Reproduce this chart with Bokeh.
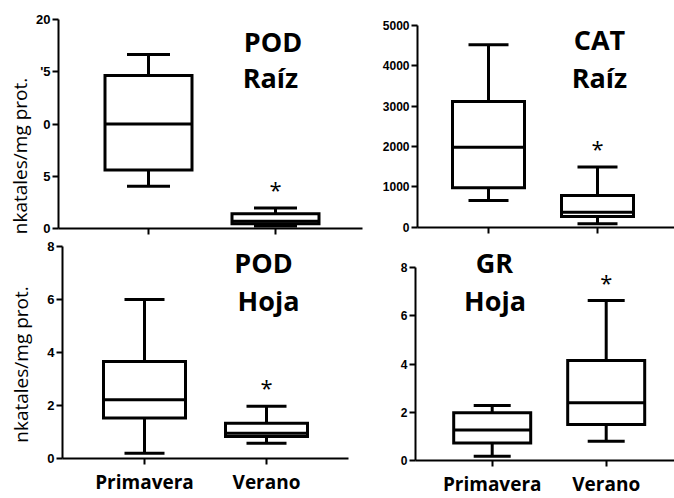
import numpy as np
from bokeh.plotting import figure
from bokeh.models import ColumnDataSource, Range1d, FixedTicker, Label, LinearAxis
from bokeh.embed import file_html
from bokeh.resources import INLINE

# ---------------- data ----------------
categories = ["Primavera", "Verano"]

pod_raiz_low = [4.05, 0.25]
pod_raiz_q1 = [5.6, 0.45]
pod_raiz_med = [10.0, 0.7]
pod_raiz_q3 = [14.65, 1.4]
pod_raiz_high = [16.65, 1.95]

cat_raiz_low = [662, 85]
cat_raiz_q1 = [976, 265]
cat_raiz_med = [1983, 372]
cat_raiz_q3 = [3116, 786]
cat_raiz_high = [4521, 1495]

pod_hoja_low = [0.19, 0.56]
pod_hoja_q1 = [1.52, 0.82]
pod_hoja_med = [2.21, 0.94]
pod_hoja_q3 = [3.65, 1.32]
pod_hoja_high = [5.99, 1.96]

gr_hoja_low = [0.18, 0.80]
gr_hoja_q1 = [0.73, 1.49]
gr_hoja_med = [1.27, 2.40]
gr_hoja_q3 = [1.98, 4.15]
gr_hoja_high = [2.28, 6.64]

significant = [False, True]  # '*' marks

ticks_pod_raiz = [0, 5, 10, 15, 20]
tick_labels_pod_raiz = ["0", "5", "0", "'5", "20"]  # as visible (clipped) in the reference
ticks_cat_raiz = [0, 1000, 2000, 3000, 4000, 5000]
ticks_hoja = [0, 2, 4, 6, 8]

ylabel_text = "nkatales/mg prot."

TITLE_FONT = "Open Sans"
TICK_FONT = "Liberation Sans"

W, H = 674, 498
BASELINE_FIX = 11  # empirical correction of Label baselines (px)

p = figure(width=W, height=H, x_range=Range1d(0, W), y_range=Range1d(0, H),
           x_axis_location=None, y_axis_location=None,
           output_backend="svg", toolbar_location=None, min_border=0)
p.outline_line_color = None
p.background_fill_color = "white"
p.border_fill_color = "white"
p.xgrid.visible = False
p.ygrid.visible = False


def panel(name, xa, xb, y0, y1, top, yaxis_px, xaxis_end_px, yticks, ytick_labels,
          low, q1, med, q3, high, box_px, cap_px, tick_font_size, show_xlabels,
          xlabel_standoff=8):
    """xa, xb: pixel x of the two categories; y0: pixel y of value 0; y1: pixel y of `top`."""
    kx = xb - xa
    ky = (y0 - y1) / top
    x_of = lambda px: 1 + (px - xa) / kx
    p.extra_x_ranges[name] = Range1d(1 - xa / kx, 1 + (W - xa) / kx)
    p.extra_y_ranges[name] = Range1d(-(H - y0) / ky, y0 / ky)
    rn = dict(x_range_name=name, y_range_name=name)

    box_w = box_px / kx
    cap_w = cap_px / kx
    xs = list(np.arange(1, len(categories) + 1))
    src = ColumnDataSource(dict(
        x=xs, low=low, q1=q1, med=med, q3=q3, high=high,
        x0=[x - box_w / 2 for x in xs], x1=[x + box_w / 2 for x in xs],
        c0=[x - cap_w / 2 for x in xs], c1=[x + cap_w / 2 for x in xs],
    ))
    kw = dict(source=src, line_color="black", line_width=3, **rn)
    p.segment(x0="x", y0="q3", x1="x", y1="high", **kw)
    p.segment(x0="x", y0="low", x1="x", y1="q1", **kw)
    p.segment(x0="c0", y0="high", x1="c1", y1="high", **kw)
    p.segment(x0="c0", y0="low", x1="c1", y1="low", **kw)
    p.vbar(x="x", width=box_w, bottom="q1", top="q3", fill_color="white",
           line_join="miter", **kw)
    p.segment(x0="x0", y0="med", x1="x1", y1="med", **kw)

    yax = LinearAxis(fixed_location=x_of(yaxis_px), bounds=(0, top),
                     ticker=FixedTicker(ticks=yticks), **rn)
    xax = LinearAxis(fixed_location=0, bounds=(x_of(yaxis_px), x_of(xaxis_end_px)),
                     ticker=FixedTicker(ticks=xs), **rn)
    for ax in (xax, yax):
        ax.axis_line_width = 2
        ax.axis_line_color = "black"
        ax.major_tick_line_width = 2
        ax.major_tick_line_color = "black"
        ax.major_tick_out = 6
        ax.major_tick_in = 0
        ax.minor_tick_line_color = None
    if ytick_labels is not None:
        yax.major_label_overrides = {t: l for t, l in zip(yticks, ytick_labels)}
    yax.major_label_text_font = TICK_FONT
    yax.major_label_text_font_style = "bold"
    yax.major_label_text_font_size = tick_font_size
    yax.major_label_text_color = "black"
    yax.major_label_standoff = 2

    xax.major_label_overrides = {x: c for x, c in zip(xs, categories)}
    if show_xlabels:
        xax.major_label_text_font = TITLE_FONT
        xax.major_label_text_font_style = "bold"
        xax.major_label_text_font_size = "19px"
        xax.major_label_text_color = "black"
        xax.major_label_standoff = xlabel_standoff
    else:
        xax.major_label_text_color = None
    p.add_layout(yax, "left")
    p.add_layout(xax, "below")

    for x, s, h in zip(xs, significant, high):
        if s:
            p.add_layout(Label(x=x, y=h, y_offset=8 + BASELINE_FIX, text="*",
                               text_font=TITLE_FONT, text_font_size="22px",
                               text_align="center", text_baseline="alphabetic",
                               text_color="black", **rn))


def title(lines):
    # lines: (text, centre x px, baseline y px) in canvas pixels (top-left origin)
    for txt, cx, by in lines:
        p.add_layout(Label(x=cx, y=H - by + BASELINE_FIX, text=txt, text_font=TITLE_FONT,
                           text_font_style="bold", text_font_size="27px",
                           text_align="center", text_baseline="alphabetic",
                           text_color="black"))


def ylabel(cx, cy):
    p.add_layout(Label(x=cx, y=H - cy, angle=np.pi / 2, text=ylabel_text,
                       text_font=TITLE_FONT, text_font_size="19px",
                       text_align="center", text_baseline="middle", text_color="black"))


# top-left: POD Raíz
panel("tl", 148, 275, 228, 19, 20, 58, 362, ticks_pod_raiz, tick_labels_pod_raiz,
      pod_raiz_low, pod_raiz_q1, pod_raiz_med, pod_raiz_q3, pod_raiz_high,
      87, 43, "13px", False)
title([("POD", 272.5, 52), ("Raíz", 270, 88)])
ylabel(19, 155.5)

# top-right: CAT Raíz
panel("tr", 488, 597, 226.7, 25, 5000, 417, W, ticks_cat_raiz, None,
      cat_raiz_low, cat_raiz_q1, cat_raiz_med, cat_raiz_q3, cat_raiz_high,
      72, 40, "12px", False)
title([("CAT", 599, 50), ("Raíz", 599, 88)])

# bottom-left: POD Hoja
panel("bl", 144, 266, 457.7, 245.7, 8, 62, 348, ticks_hoja, None,
      pod_hoja_low, pod_hoja_q1, pod_hoja_med, pod_hoja_q3, pod_hoja_high,
      82, 40, "13px", True, 5)
title([("POD", 263, 273.3), ("Hoja", 268, 311)])
ylabel(20, 364)

# bottom-right: GR Hoja
panel("br", 491.7, 605.7, 460, 267.3, 8, 415, W, ticks_hoja, None,
      gr_hoja_low, gr_hoja_q1, gr_hoja_med, gr_hoja_q3, gr_hoja_high,
      77, 37, "12px", True, 4)
title([("GR", 494, 273.3), ("Hoja", 494.5, 311)])

open("out.html", "w").write(file_html(p, INLINE))
